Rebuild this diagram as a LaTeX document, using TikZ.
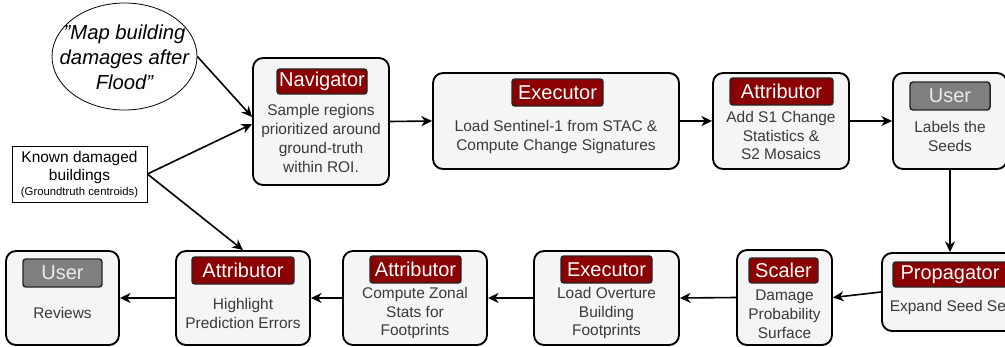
\documentclass[tikz,border=0pt]{standalone}
\usepackage{fontspec}
\setmainfont{Liberation Sans}
\usetikzlibrary{arrows.meta,calc,shapes.geometric}

\definecolor{boxfill}{HTML}{F5F5F5}
\definecolor{badgered}{HTML}{8B0000}
\definecolor{badgegray}{HTML}{7F7F7F}
\definecolor{bodytext}{HTML}{3A3A3A}

\tikzset{
  agentbox/.style={draw=black, line width=1.4pt, fill=boxfill, rounded corners=7.5pt,
    inner sep=0pt},
  badge/.style={draw=black!85, line width=1.1pt, fill=badgered, text=white,
    rounded corners=2.2pt, inner sep=0pt,
    font=\fontsize{15}{18}\selectfont},
  userbadge/.style={badge, fill=badgegray, text=white!92!black},
  body/.style={align=center, text=bodytext, inner sep=0pt,
    font=\fontsize{11.6}{14.2}\selectfont},
  flow/.style={draw=black, line width=1.2pt, -{Stealth[length=8pt,width=7.5pt,inset=2.5pt]}},
}

% sizes given in px of the drawing grid: 1 unit = 0.75pt
\newcommand{\bx}[5]{% name, cx, cy, w, h
  \node[agentbox, minimum width=#4*0.75pt, minimum height=#5*0.75pt] (#1) at (#2,#3) {};}
\newcommand{\bdg}[7]{% name, style, cx, cy, w, h, text
  \node[#2, minimum width=#5*0.75pt, minimum height=#6*0.75pt] (#1) at (#3,#4) {#7};}

\begin{document}
\begin{tikzpicture}[x=0.75pt, y=-0.75pt]
\useasboundingbox (0,0) rectangle (1005,346);
\clip (0,0) rectangle (1005,346);

% ---- inputs ----
\node[draw=black, line width=0.6pt, ellipse, minimum width=145*0.75pt,
  minimum height=107*0.75pt, inner sep=0pt, fill=white] (goal) at (124.5,56.5) {};
\node[align=center, inner sep=0pt, font=\fontsize{15.2}{18.8}\selectfont\itshape]
  (goaltext) at (124.5,57) {\symbol{34}Map building\\damages after\\Flood\symbol{34}};

\node[draw=black, line width=0.6pt, fill=white, minimum width=135*0.75pt,
  minimum height=56*0.75pt, inner sep=0pt] (known) at (79.5,174) {};
\node[align=center, inner sep=0pt, font=\fontsize{11.6}{14.2}\selectfont]
  (knowntext) at (79.5,167.5) {Known damaged\\buildings};
\node[inner sep=0pt, font=\fontsize{8.5}{9}\selectfont] (knownsub) at (79.5,193) {(Groundtruth centroids)};

% ---- top row ----
\bx{nav}{321}{121.5}{136}{127}
\bdg{navb}{badge}{322}{81.5}{90}{25}{Navigator}
\node[body] (navt) at (321,138.5) {Sample regions\\prioritized around\\ground-truth\\within ROI.};

\bx{exa}{556}{121}{246}{96}
\bdg{exab}{badge}{557.5}{92.5}{91}{27}{Executor}
\node[body] (exat) at (556,137) {Load Sentinel-1 from STAC \&\\Compute Change Signatures};

\bx{ata}{781}{121}{136}{96}
\bdg{atab}{badge}{781.5}{91.5}{103}{27}{Attributor}
\node[body] (atat) at (781,135.5) {Add S1 Change\\Statistics \&\\S2 Mosaics};

\bx{usa}{950}{121}{114}{96}
\bdg{usab}{userbadge}{950}{96}{80}{28}{User}
\node[body] (usat) at (950,136.5) {Labels the\\Seeds};

% ---- bottom row ----
\bx{prop}{950}{292}{136}{78}
\bdg{propb}{badge}{950}{274.5}{114}{25}{Propagator}
\node[body] (propt) at (950,307) {Expand Seed Set};

\bx{scl}{784.5}{297.5}{95}{95}
\bdg{sclb}{badge}{783.5}{270.5}{69}{25}{Scaler}
\node[body] (sclt) at (784.5,314) {Damage\\Probability\\Surface};

\bx{exb}{606.5}{298}{145}{94}
\bdg{exbb}{badge}{606.5}{269.5}{91}{27}{Executor}
\node[body] (exbt) at (606.5,313) {Load Overture\\Building\\Footprints};

\bx{atz}{415}{298}{144}{94}
\bdg{atzb}{badge}{415.5}{269.5}{91}{27}{Attributor}
\node[body] (atzt) at (415,313) {Compute Zonal\\Stats for\\Footprints};

\bx{ath}{243}{298}{134}{94}
\bdg{athb}{badge}{243}{270.5}{102}{27}{Attributor}
\node[body] (atht) at (243,313.5) {Highlight\\Prediction Errors};

\bx{usb}{62.5}{298}{113}{94}
\bdg{usbb}{userbadge}{62.5}{273}{79}{28}{User}
\node[body] (usbt) at (62.5,313) {Reviews};

% ---- connectors ----
\draw[flow] (goal.east) -- ($(nav.west)+(0,-4.5)$);
\draw[flow] (known.east) -- ($(nav.west)+(0,2.5)$);
\draw[flow] (known.east) -- (ath.north);
\draw[flow] (nav.east) -- (exa.west);
\draw[flow] (exa.east) -- (ata.west);
\draw[flow] (ata.east) -- (usa.west);
\draw[flow] (usa.south) -- (prop.north);
\draw[flow] (prop.west) -- (scl.east);
\draw[flow] (scl.west) -- (exb.east);
\draw[flow] (exb.west) -- (atz.east);
\draw[flow] (atz.west) -- (ath.east);
\draw[flow] (ath.west) -- (usb.east);
\end{tikzpicture}
\end{document}
